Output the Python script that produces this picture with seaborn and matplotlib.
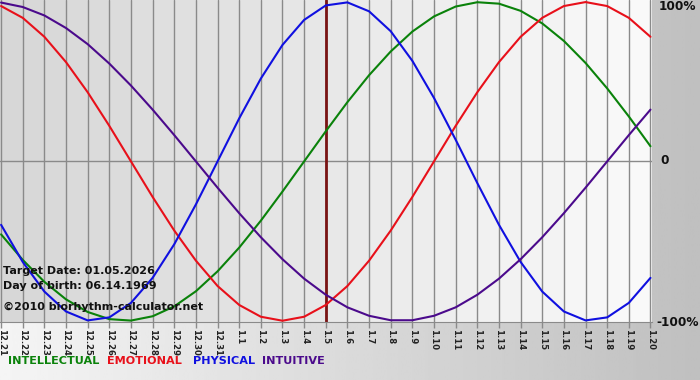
import numpy as np
import pandas as pd
import matplotlib
matplotlib.use("Agg")
import matplotlib.pyplot as plt
import seaborn as sns

# ---------------- data ----------------
day_labels = ["12.21", "12.22", "12.23", "12.24", "12.25", "12.26", "12.27", "12.28",
              "12.29", "12.30", "12.31", "1.1", "1.2", "1.3", "1.4", "1.5", "1.6",
              "1.7", "1.8", "1.9", "1.10", "1.11", "1.12", "1.13", "1.14", "1.15",
              "1.16", "1.17", "1.18", "1.19", "1.20"]

physical = [-0.398, -0.631, -0.817, -0.942, -0.998, -0.979, -0.888, -0.731, -0.520, -0.270,
            0.000, 0.270, 0.520, 0.731, 0.888, 0.979, 0.998, 0.942, 0.817, 0.631,
            0.398, 0.136, -0.136, -0.398, -0.631, -0.817, -0.942, -0.998, -0.979, -0.888,
            -0.731]
emotional = [0.975, 0.901, 0.782, 0.623, 0.434, 0.223, 0.000, -0.223, -0.434, -0.623,
             -0.782, -0.901, -0.975, -1.000, -0.975, -0.901, -0.782, -0.623, -0.434, -0.223,
             0.000, 0.223, 0.434, 0.623, 0.782, 0.901, 0.975, 1.000, 0.975, 0.901,
             0.782]
intellectual = [-0.458, -0.618, -0.756, -0.866, -0.945, -0.990, -0.999, -0.972, -0.910, -0.815,
                -0.690, -0.541, -0.372, -0.189, 0.000, 0.189, 0.372, 0.541, 0.690, 0.815,
                0.910, 0.972, 0.999, 0.990, 0.945, 0.866, 0.756, 0.618, 0.458, 0.282,
                0.095]
intuitive = [0.997, 0.969, 0.916, 0.837, 0.736, 0.614, 0.476, 0.325, 0.165, 0.000,
             -0.165, -0.325, -0.476, -0.614, -0.736, -0.837, -0.916, -0.969, -0.997, -0.997,
             -0.969, -0.916, -0.837, -0.736, -0.614, -0.476, -0.325, -0.165, 0.000, 0.165,
             0.325]

series_names = ["INTELLECTUAL", "EMOTIONAL", "PHYSICAL", "INTUITIVE"]
series_colors = ["#0a820a", "#e8101a", "#1010e0", "#4b0a8c"]
target_index = 15
y_tick_labels = ["100%", "0", "-100%"]
info_lines = ["Target Date: 01.05.2026", "Day of birth: 06.14.1969"]
copyright_text = "\u00a92010 biorhythm-calculator.net"

# ---------------- build table ----------------
values = {"INTELLECTUAL": intellectual, "EMOTIONAL": emotional,
          "PHYSICAL": physical, "INTUITIVE": intuitive}
rows = []
for name in series_names:
    for i, v in enumerate(values[name]):
        rows.append({"day": i, "value": v, "series": name})
df = pd.DataFrame(rows)

# ---------------- figure ----------------
sns.set_style("white")
plt.rcParams["font.family"] = ["DejaVu Sans"]

W, H = 700, 380
fig = plt.figure(figsize=(W / 100, H / 100), dpi=100)

# figure background gradient
bg = fig.add_axes([0, 0, 1, 1], zorder=-10)
bg.imshow(np.linspace(0.96, 0.75, 256)[None, :], cmap="gray", vmin=0, vmax=1,
          aspect="auto", extent=(0, 1, 0, 1))
bg.axis("off")

ax = fig.add_axes([0, 1 - 322 / H, 652 / W, 322 / H])
ax.patch.set_alpha(0)
n = len(day_labels)
xmin, xmax = -0.05, n - 1 + 0.07
ymin, ymax = -1.008, 1.013

# stepped column background
cols = np.linspace(0.84, 0.975, n - 1)
ax.imshow(cols[None, :], cmap="gray", vmin=0, vmax=1, aspect="auto",
          extent=(0, n - 1, ymin, ymax), zorder=0, interpolation="nearest")
ax.axvspan(xmin, 0, color=str(cols[0]), zorder=0, lw=0)
ax.axvspan(n - 1, xmax, color=str(cols[-1]), zorder=0, lw=0)

# grid
for i in range(n):
    ax.axvline(i, color="#8a8a8a", lw=1.0, zorder=1)
ax.axhline(0, color="#8a8a8a", lw=1.0, zorder=1)

sns.lineplot(data=df, x="day", y="value", hue="series", hue_order=series_names,
             palette=series_colors, legend=False, linewidth=1.5, ax=ax, zorder=3)
for line in ax.get_lines():
    line.set_solid_joinstyle("round")
    line.set_solid_capstyle("round")

ax.axvline(target_index, color="#7a1414", lw=2.0, zorder=2)

ax.set_xlim(xmin, xmax)
ax.set_ylim(ymin, ymax)
ax.set_xlabel("")
ax.set_ylabel("")
ax.set_yticks([])
ax.set_xticks(range(n))
ax.set_xticklabels(day_labels, rotation=270, fontsize=6.1, fontweight="bold",
                   color="#222222")
ax.tick_params(axis="x", length=4, width=1, color="#8a8a8a", pad=1, bottom=True)
for s in ["top", "left", "right"]:
    ax.spines[s].set_visible(False)
ax.spines["bottom"].set_color("#8a8a8a")

# right-hand value labels
for lab, ypix, xpix in zip(y_tick_labels, [7, 161, 322], [659, 660, 656]):
    fig.text(xpix / W, 1 - ypix / H, lab, ha="left", va="center",
             fontsize=8.7, fontweight="bold", color="#111111")

# info text
for txt, ypix in zip(info_lines, [271, 286]):
    fig.text(3 / W, 1 - ypix / H, txt, ha="left", va="center", fontsize=8,
             fontweight="bold", color="#111111", zorder=10)
fig.text(3 / W, 1 - 307 / H, copyright_text, ha="left", va="center", fontsize=8,
         fontweight="bold", color="#111111", zorder=10)

# legend texts
for name, col, xpix in zip(series_names, series_colors, [8, 107, 193, 262]):
    fig.text(xpix / W, 1 - 361 / H, name, ha="left", va="center", fontsize=8.1,
             fontweight="bold", color=col)

fig.savefig("out.png", dpi=100)
